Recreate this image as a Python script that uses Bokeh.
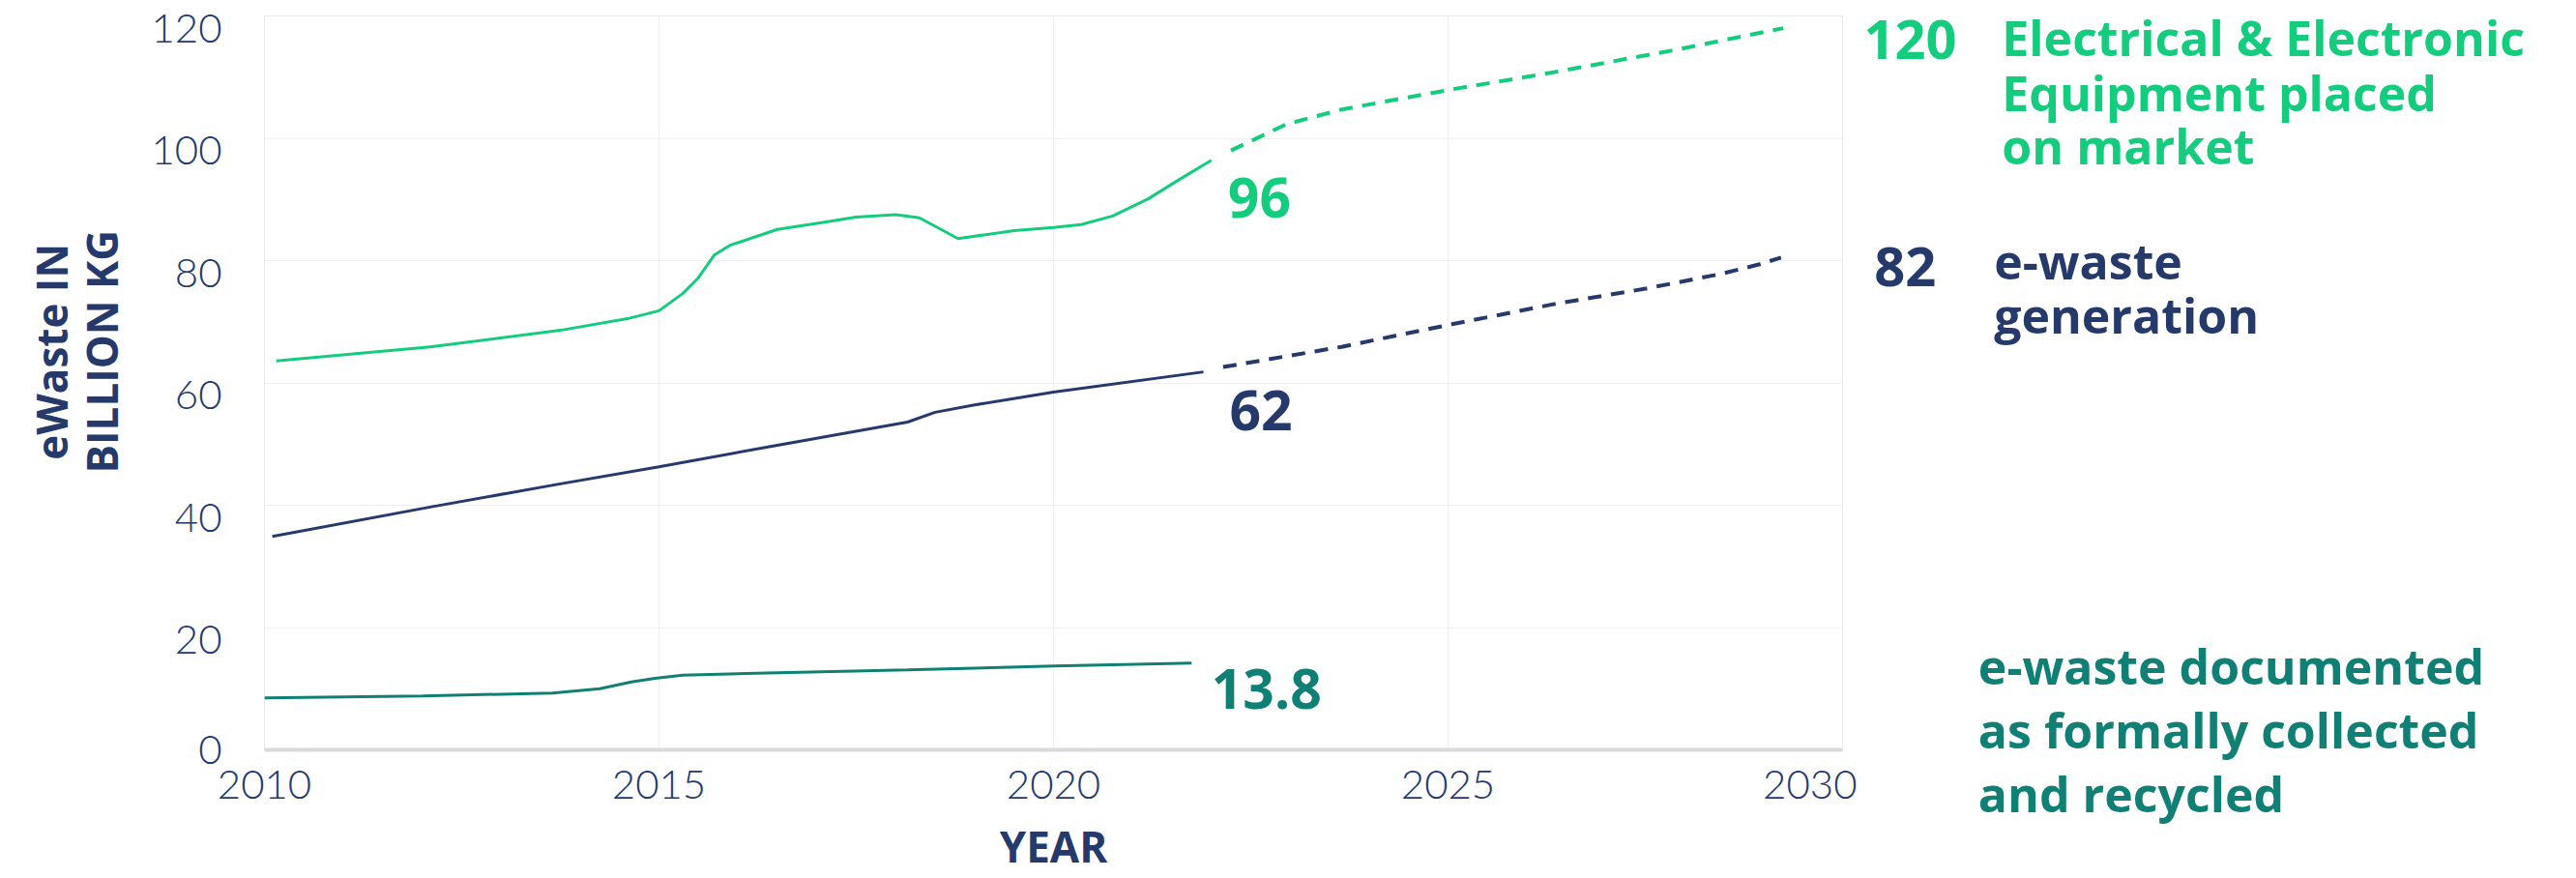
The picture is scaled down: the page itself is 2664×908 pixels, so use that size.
import math
from bokeh.plotting import figure
from bokeh.layouts import row
from bokeh.models import Range1d, LinearAxis, FixedTicker, Label
from bokeh.embed import file_html
from bokeh.resources import INLINE

# ---------------- data ----------------
x_ticks = [2010, 2015, 2020, 2025, 2030]
y_ticks = [0, 20, 40, 60, 80, 100, 120]

# Electrical & Electronic Equipment placed on market (reported)
eee_years = [2010.15, 2012.1, 2013.75, 2014.6, 2015.0, 2015.3, 2015.5, 2015.7, 2015.9,
             2016.5, 2017.1, 2017.5, 2018.0, 2018.3, 2018.79, 2019.5, 2020.0, 2020.35,
             2020.75, 2021.2, 2021.6, 2022.0]
eee_vals = [63.6, 65.9, 68.6, 70.5, 71.8, 74.6, 77.2, 80.9, 82.5,
            85.1, 86.3, 87.1, 87.5, 87.0, 83.6, 84.9, 85.4, 85.9,
            87.3, 90.1, 93.3, 96.4]
# projection
eee_proj_years = [2022.25, 2022.95, 2023.65, 2025.05, 2026.3, 2027.9, 2029.25]
eee_proj_vals = [98.0, 102.3, 104.7, 108.0, 110.7, 114.5, 118.0]

# e-waste generation
gen_years = [2010.1, 2012.1, 2013.75, 2015.0, 2016.5, 2018.15, 2018.5, 2019.0, 2020.0, 2021.9]
gen_vals = [34.9, 39.7, 43.5, 46.3, 49.8, 53.6, 55.2, 56.4, 58.5, 61.8]
gen_proj_years = [2022.15, 2023.65, 2025.05, 2026.35, 2027.5, 2028.45, 2028.95, 2029.22]
gen_proj_vals = [62.6, 65.9, 69.6, 72.9, 75.4, 77.8, 79.4, 80.5]

# e-waste documented as formally collected and recycled
doc_years = [2010.0, 2012.0, 2013.65, 2014.25, 2014.65, 2014.95, 2015.3, 2016.1, 2018.15, 2020.0, 2021.75]
doc_vals = [8.5, 8.8, 9.3, 10.0, 11.1, 11.7, 12.2, 12.5, 13.1, 13.7, 14.2]

# value call-outs
end_values = ["96", "62", "13.8"]        # 2022 values
proj_values = ["120", "82"]              # 2030 projections

series_names = [
    ["Electrical & Electronic", "Equipment placed", "on market"],
    ["e-waste", "generation"],
    ["e-waste documented", "as formally collected", "and recycled"],
]
y_title = ["eWaste IN", "BILLION KG"]
x_title = "YEAR"

# ---------------- style ----------------
GREEN = "#14cc7d"
NAVY = "#253a6b"
TEAL = "#118074"
BOLD = "Open Sans"
LIGHT = "Lato Light, Lato"
LABEL_SHIFT = 2   # y tick labels sit ~2 units below their grid lines

# shared vertical scale for the three panels: the chart's 0..120 spans 759 px
Y_FULL = Range1d(-21.03, 122.53)     # the whole 908 px canvas height


def blank_panel(width, x_range):
    f = figure(width=width, height=908, x_range=x_range, y_range=Y_FULL,
               output_backend="svg", toolbar_location=None,
               x_axis_location=None, y_axis_location=None,
               min_border_left=0, min_border_right=0, min_border_top=0, min_border_bottom=0)
    f.frame_align = False
    f.outline_line_color = None
    f.background_fill_color = "white"
    f.border_fill_color = "white"
    f.xgrid.visible = False
    f.ygrid.visible = False
    return f


def lab(fig, x, y, text, color, size, align="left", angle=0.0):
    fig.add_layout(Label(x=x, y=y, text=text, text_color=color, text_font=BOLD,
                         text_font_style="bold", text_font_size=size, angle=angle,
                         text_align=align, text_baseline="alphabetic"))


# ---------------- main chart ----------------
p = figure(width=1770, height=908,
           x_range=Range1d(2010, 2030), y_range=Range1d(0, 120),
           output_backend="svg", toolbar_location=None,
           min_border_left=123, min_border_right=15,
           min_border_top=16, min_border_bottom=133)
p.frame_align = False
p.background_fill_color = "white"
p.border_fill_color = "white"
p.outline_line_color = "#ebebeb"
p.outline_line_width = 1

p.xgrid.ticker = FixedTicker(ticks=x_ticks)
p.ygrid.ticker = FixedTicker(ticks=y_ticks)
p.xgrid.grid_line_color = "#efefef"
p.ygrid.grid_line_color = "#efefef"

xa = p.xaxis[0]
xa.ticker = FixedTicker(ticks=x_ticks)
xa.axis_line_color = "#d9d9d9"
xa.axis_line_width = 4
xa.major_tick_line_color = None
xa.minor_tick_line_color = None
xa.major_tick_out = 0
xa.major_tick_in = 0
xa.major_label_standoff = 21
xa.major_label_text_font = LIGHT
xa.major_label_text_font_size = "42px"
xa.major_label_text_color = NAVY
xa.axis_label = x_title
xa.axis_label_standoff = 16
xa.axis_label_text_font = BOLD
xa.axis_label_text_font_style = "bold"
xa.axis_label_text_font_size = "44px"
xa.axis_label_text_color = NAVY

p.yaxis.visible = False
p.extra_y_ranges = {"lab": Range1d(LABEL_SHIFT, 120 + LABEL_SHIFT)}
ya = LinearAxis(y_range_name="lab",
                ticker=FixedTicker(ticks=[LABEL_SHIFT] + y_ticks[1:]),
                major_label_overrides={LABEL_SHIFT: str(y_ticks[0])})
ya.axis_line_color = None
ya.major_tick_line_color = None
ya.minor_tick_line_color = None
ya.major_tick_out = 0
ya.major_tick_in = 0
ya.major_label_standoff = 44
ya.major_label_text_font = LIGHT
ya.major_label_text_font_size = "42px"
ya.major_label_text_color = NAVY
p.add_layout(ya, "left")

p.line(eee_years, eee_vals, line_color=GREEN, line_width=3)
p.line(eee_proj_years, eee_proj_vals, line_color=GREEN, line_width=4, line_dash="14 10")
p.line(gen_years, gen_vals, line_color=NAVY, line_width=3)
p.line(gen_proj_years, gen_proj_vals, line_color=NAVY, line_width=4, line_dash="14 10")
p.line(doc_years, doc_vals, line_color=TEAL, line_width=3)

lab(p, 2022.21, 90.3, end_values[0], GREEN, "57px")
lab(p, 2022.23, 55.5, end_values[1], NAVY, "57px")
lab(p, 2022.0, 9.9, end_values[2], TEAL, "57px")

# ---------------- left panel: y axis title ----------------
p0 = blank_panel(150, Range1d(2006.6544, 2008.4926))
lab(p0, 2007.292, 65.1, y_title[0], NAVY, "44px", align="center", angle=math.pi / 2)
lab(p0, 2007.929, 65.1, y_title[1], NAVY, "44px", align="center", angle=math.pi / 2)

# ---------------- right panel: projections and series names ----------------
p2 = blank_panel(744, Range1d(2030.184, 2039.301))
lab(p2, 2030.27, 116.2, proj_values[0], GREEN, "56px")
lab(p2, 2030.40, 78.9, proj_values[1], NAVY, "56px")
for t, yy in zip(series_names[0], [116.5, 107.5, 98.7]):
    lab(p2, 2032.02, yy, t, GREEN, "50px")
for t, yy in zip(series_names[1], [79.9, 71.0]):
    lab(p2, 2031.92, yy, t, NAVY, "50px")
for t, yy in zip(series_names[2], [13.6, 3.17, -7.26]):
    lab(p2, 2031.72, yy, t, TEAL, "50px")

layout = row(p0, p, p2, spacing=0)
open("out.html", "w").write(file_html(layout, INLINE))
